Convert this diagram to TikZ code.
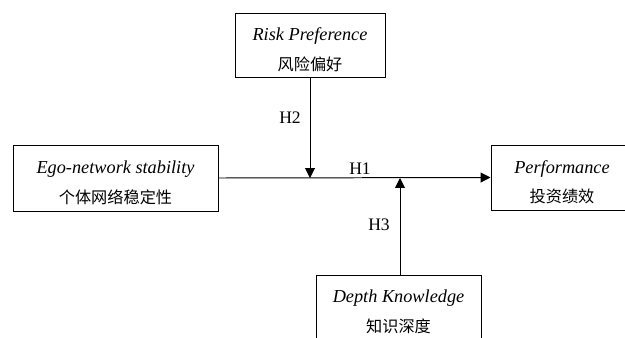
\documentclass[tikz,border=0pt]{standalone}
\usepackage{fontspec}
\setmainfont{Liberation Serif}
\newfontfamily\cjk{Noto Sans CJK SC}
\usetikzlibrary{arrows.meta}
\newcommand{\boxtext}[2]{\rule{0pt}{16pt}\textit{#1}\\{\cjk\fontsize{11.5}{13}\selectfont #2}}
\begin{document}
\begin{tikzpicture}[x=0.025cm,y=-0.025cm,
  box/.style={draw,line width=0.7pt,align=center,inner sep=0pt,
    font=\fontsize{13}{21}\selectfont},
  link/.style={line width=0.7pt,-{Triangle[length=7pt,width=7pt]}},
  hyp/.style={font=\fontsize{12.5}{14}\selectfont}]
\clip (0,0) rectangle (625,337);
\node[box,minimum width=150*0.025cm,minimum height=64*0.025cm] (risk) at (310,45)
  {\boxtext{Risk Preference}{风险偏好}};
\node[box,minimum width=205*0.025cm,minimum height=66*0.025cm] (ego) at (115.5,178)
  {\boxtext{Ego-network stability}{个体网络稳定性}};
\node[box,minimum width=142*0.025cm,minimum height=65*0.025cm] (perf) at (562,177.5)
  {\boxtext{Performance}{投资绩效}};
\node[box,minimum width=165*0.025cm,minimum height=64*0.025cm] (depth) at (398.5,307)
  {\boxtext{Depth Knowledge}{知识深度}};
\coordinate (h2end) at (310,178);
\coordinate (h3start) at (400,275);
\coordinate (h3end) at (400,178);
\draw[link] (ego.east) -- (perf.west);
\draw[link] (risk.south) -- (h2end);
\draw[link] (h3start) -- (h3end);
\node[hyp] (h1) at (360,169) {H1};
\node[hyp] (h2) at (290,118) {H2};
\node[hyp] (h3) at (379,225) {H3};
\end{tikzpicture}
\end{document}
